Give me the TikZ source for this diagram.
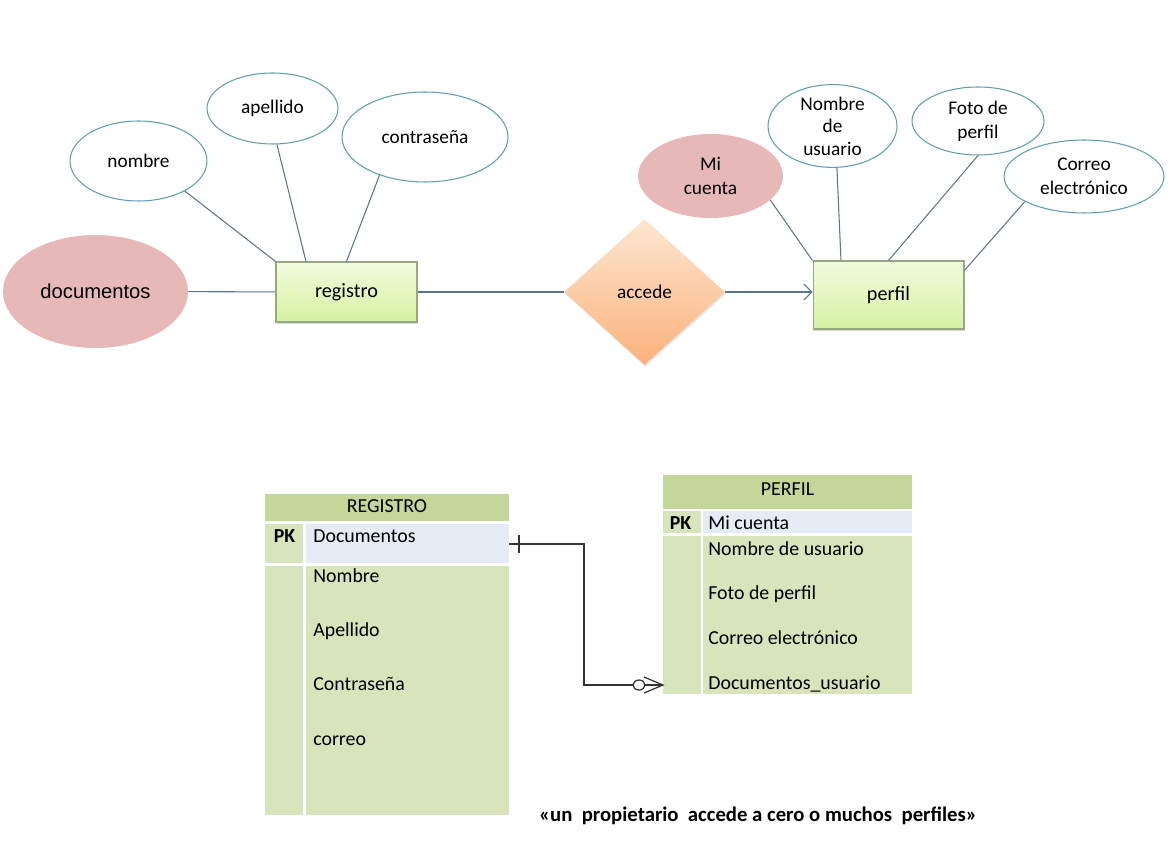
\documentclass[tikz,border=0pt]{standalone}
\usepackage{fontspec}
\setmainfont{Carlito}
\newfontfamily\arialfont{Liberation Sans}
\usetikzlibrary{shapes.geometric, arrows.meta, shadows, calc}

\definecolor{attrborder}{HTML}{5E9FB8}
\definecolor{linkcol}{HTML}{5A7590}
\definecolor{keypink}{HTML}{E6B9B8}
\definecolor{entborder}{HTML}{98A883}
\definecolor{enttop}{HTML}{F2FBDE}
\definecolor{entbottom}{HTML}{D5F2A2}
\definecolor{reltop}{HTML}{FDE7D2}
\definecolor{relbottom}{HTML}{FBB27C}
\definecolor{tabhead}{HTML}{C4D79B}
\definecolor{tabbody}{HTML}{D8E4BC}
\definecolor{tabkey}{HTML}{E6ECF5}

\tikzset{
  attr/.style={draw=attrborder, ellipse, fill=white, align=center, inner sep=0pt, line width=0.6pt},
  keyattr/.style={ellipse, fill=keypink, align=center, inner sep=0pt},
  entity/.style={draw=entborder, line width=0.6pt, top color=enttop, bottom color=entbottom,
    font=\fontsize{11.5}{14}\selectfont,
    drop shadow={opacity=0.3, shadow xshift=0.8pt, shadow yshift=-1.2pt}},
  relation/.style={diamond, top color=reltop, bottom color=relbottom, inner sep=0pt,
    drop shadow={opacity=0.2, shadow xshift=0.6pt, shadow yshift=-1pt}},
  link/.style={draw=linkcol, line width=0.6pt},
  field/.style={anchor=base west, inner sep=0pt, font=\fontsize{11.3}{13}\selectfont},
  title/.style={anchor=base, inner sep=0pt, font=\fontsize{11.3}{13}\selectfont},
  pk/.style={anchor=base, inner sep=0pt, font=\bfseries\fontsize{11.3}{13}\selectfont},
  fk/.style={draw=black!80, line width=0.7pt}
}

\begin{document}
\begin{tikzpicture}[x=0.02cm, y=-0.02cm, font=\fontsize{11}{13.5}\selectfont]
\useasboundingbox (0,0) rectangle (1175,847);

% diagrama entidad-relacion
\draw (95.5,291.5) node[keyattr, minimum width=3.7cm, minimum height=2.26cm, font=\arialfont\fontsize{11.5}{14}\selectfont] (documentos) {documentos};
\draw (138.5,161) node[attr, minimum width=2.74cm, minimum height=1.6cm] (nombre) {nombre};
\draw (272.5,108.5) node[attr, minimum width=2.62cm, minimum height=1.42cm] (apellido) {apellido};
\draw (425,137) node[attr, minimum width=3.32cm, minimum height=1.8cm] (contrasena) {contraseña};
\draw (346.5,292) node[entity, minimum width=2.82cm, minimum height=1.2cm] (registro) {registro};

\draw (644.5,292) node[relation, minimum width=3.22cm, minimum height=2.92cm] (accede) {accede};

\draw (888.5,295) node[entity, minimum width=3.02cm, minimum height=1.36cm] (perfil) {perfil};
\draw (710.5,176) node[keyattr, minimum width=2.9cm, minimum height=1.68cm] (micuenta) {Mi\\cuenta};
\draw (832.5,126) node[attr, minimum width=2.58cm, minimum height=1.36cm, font=\fontsize{11}{12.8}\selectfont] (nomusuario) {Nombre\\de\\usuario};
\draw (978,121) node[attr, minimum width=2.64cm, minimum height=1.36cm] (foto) {Foto de\\perfil};
\draw (1084,176.5) node[attr, minimum width=3.2cm, minimum height=1.46cm] (correo) {Correo\\electrónico};

\draw[link] (documentos) -- (registro);
\draw[link] (nombre.327) -- (registro.north west);
\draw[link] (apellido.277) -- (registro.143.5);
\draw[link] (contrasena.220) -- (registro.north);
\draw[link] (registro) -- (accede);
\draw[link, -{Straight Barb[length=4.5pt, width=9pt]}] (accede.east) -- (accede.east -| perfil.west);
\draw[link] (micuenta.338) -- (perfil.north west);
\draw[link] (nomusuario.276) -- (perfil.144);
\draw[link] (foto.south) -- (perfil.north);
\draw[link] (correo.203.5) -- (perfil.18);

% tabla REGISTRO
\fill[tabhead] (265,494) rectangle (509,521);
\fill[tabbody] (265,524) rectangle (303,563);
\fill[tabkey] (306,524) rectangle (509,563);
\fill[tabbody] (265,566) rectangle (303,815);
\fill[tabbody] (306,566) rectangle (509,815);
\draw (387,512) node[title] (regtitulo) {REGISTRO};
\draw (284.5,542) node[pk] (regpk) {PK};
\draw (313,542) node[field] (regdoc) {Documentos};
\draw (313,582) node[field] (regnom) {Nombre};
\draw (313,636) node[field] (regape) {Apellido};
\draw (313,690) node[field] (regcon) {Contraseña};
\draw (313,745) node[field] (regcor) {correo};

% tabla PERFIL
\fill[tabhead] (663,475) rectangle (912,509);
\fill[tabbody] (663,511) rectangle (701,533);
\fill[tabkey] (703,511) rectangle (912,533);
\fill[tabbody] (663,536) rectangle (701,694);
\fill[tabbody] (703,536) rectangle (912,694);
\draw (787.5,495) node[title] (pertitulo) {PERFIL};
\draw (680.5,529.5) node[pk] (perpk) {PK};
\draw (708,529.5) node[field] (percue) {Mi cuenta};
\draw (708,555) node[field] (pernom) {Nombre de usuario};
\draw (708,599.5) node[field] (perfot) {Foto de perfil};
\draw (708,644) node[field] (percor) {Correo electrónico};
\draw (708,689.5) node[field] (perdoc) {Documentos\_usuario};

% relacion uno a cero o muchos
\coordinate (regkey) at (509,544);
\coordinate (perkey) at (663,685);
\draw[fk] (regkey) -- (584,544) |- (perkey);
\draw[fk] ($(regkey)+(10,-9)$) -- ($(regkey)+(10,9)$);
\draw[fk, fill=white] ($(perkey)+(-24,0)$) ellipse [x radius=0.12cm, y radius=0.1cm];
\draw[fk] ($(perkey)+(-19,-8)$) -- (perkey) -- ($(perkey)+(-19,8)$);

\draw (758,816) node[font=\bfseries\fontsize{11.8}{14}\selectfont] (lema) {«un\ \ propietario\ \ accede a cero o muchos\ \ perfiles»};
\end{tikzpicture}
\end{document}
